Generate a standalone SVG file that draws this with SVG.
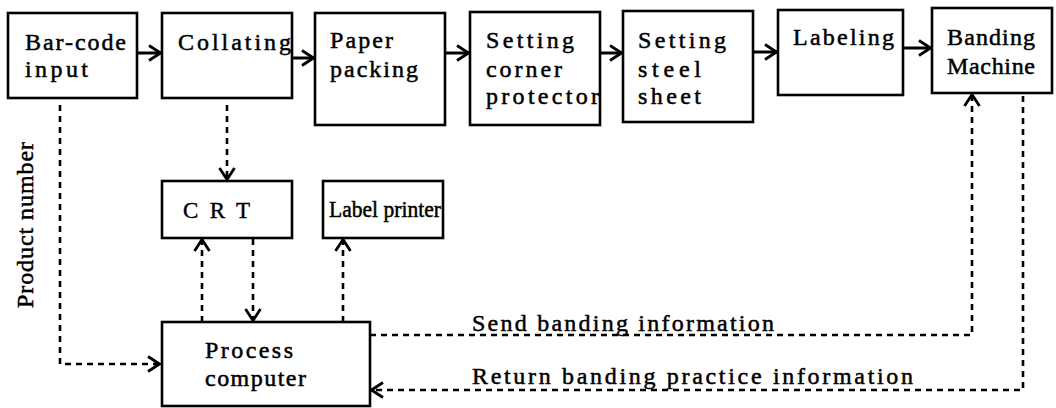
<svg xmlns="http://www.w3.org/2000/svg" width="1056" height="408" viewBox="0 0 1056 408">
<style>
.box{fill:#fff;stroke:#000;stroke-width:2.6}
.t{font-family:"Liberation Serif",serif;font-size:24px;fill:#000;stroke:#000;stroke-width:0.5}
.s{font-family:"Liberation Serif",serif;font-size:23px;fill:#000;stroke:#000;stroke-width:0.4}
.solid{fill:none;stroke:#000;stroke-width:3}
.dash{fill:none;stroke:#000;stroke-width:2.6;stroke-dasharray:6 5}
</style>
<defs>
<marker id="ah" markerUnits="userSpaceOnUse" viewBox="0 0 14 18" refX="13" refY="9" markerWidth="14" markerHeight="18" orient="auto">
<path d="M1,1.5 L12.5,9 L1,16.5" fill="none" stroke="#000" stroke-width="2.8"/>
</marker>
</defs>
<rect width="1056" height="408" fill="#fff"/>
<g id="connectors">
<path class="solid" d="M137,53 H161" marker-end="url(#ah)"/>
<path class="solid" d="M292,58 H314" marker-end="url(#ah)"/>
<path class="solid" d="M445,53 H469" marker-end="url(#ah)"/>
<path class="solid" d="M600,53 H622" marker-end="url(#ah)"/>
<path class="solid" d="M753,52 H777" marker-end="url(#ah)"/>
<path class="solid" d="M903,48 H931" marker-end="url(#ah)"/>
<path class="dash" d="M60,105 V364 H160" marker-end="url(#ah)"/>
<path class="dash" d="M227,105 V180" marker-end="url(#ah)"/>
<path class="dash" d="M202,322 V239" marker-end="url(#ah)"/>
<path class="dash" d="M253,239 V321" marker-end="url(#ah)"/>
<path class="dash" d="M343,322 V239" marker-end="url(#ah)"/>
<path class="dash" d="M370,335 H972 V94" marker-end="url(#ah)"/>
<path class="dash" d="M1023,96 V390 H371" marker-end="url(#ah)"/>
</g>
<g id="barcode"><rect class="box" x="8" y="13" width="129" height="85"/><text class="t" x="25" y="50" textLength="101" lengthAdjust="spacing">Bar-code</text><text class="t" x="25" y="77" textLength="63" lengthAdjust="spacing">input</text></g>
<g id="collating"><rect class="box" x="162" y="13" width="130" height="85"/><text class="t" x="178" y="50" textLength="113" lengthAdjust="spacing">Collating</text></g>
<g id="paper"><rect class="box" x="315" y="13" width="130" height="112"/><text class="t" x="330" y="48" textLength="63" lengthAdjust="spacing">Paper</text><text class="t" x="330" y="77" textLength="88" lengthAdjust="spacing">packing</text></g>
<g id="corner"><rect class="box" x="470" y="12" width="130" height="113"/><text class="t" x="486" y="48" textLength="88" lengthAdjust="spacing">Setting</text><text class="t" x="486" y="77" textLength="76" lengthAdjust="spacing">corner</text><text class="t" x="486" y="104" textLength="113" lengthAdjust="spacing">protector</text></g>
<g id="steel"><rect class="box" x="623" y="11" width="130" height="111"/><text class="t" x="638" y="48" textLength="88" lengthAdjust="spacing">Setting</text><text class="t" x="638" y="77" textLength="63" lengthAdjust="spacing">steel</text><text class="t" x="638" y="104" textLength="63" lengthAdjust="spacing">sheet</text></g>
<g id="labeling"><rect class="box" x="778" y="10" width="125" height="85"/><text class="t" x="793" y="45" textLength="101" lengthAdjust="spacing">Labeling</text></g>
<g id="banding"><rect class="box" x="932" y="8" width="120" height="85"/><text class="t" x="947" y="45" textLength="88" lengthAdjust="spacing">Banding</text><text class="t" x="947" y="74" textLength="88" lengthAdjust="spacing">Machine</text></g>
<g id="crt"><rect class="box" x="162" y="181" width="130" height="57"/><text class="s" x="183" y="218" textLength="67" lengthAdjust="spacing">C R T</text></g>
<g id="labelprinter"><rect class="box" x="323" y="181" width="120" height="57"/><text class="t" x="329" y="217" textLength="112" lengthAdjust="spacingAndGlyphs" font-size="22">Label printer</text></g>
<g id="process"><rect class="box" x="162" y="322" width="208" height="84"/><text class="t" x="205" y="358" textLength="88" lengthAdjust="spacing">Process</text><text class="t" x="205" y="386" textLength="101" lengthAdjust="spacing">computer</text></g>
<g id="labels">
<text class="t" x="472" y="331" textLength="302" lengthAdjust="spacing">Send banding information</text>
<text class="t" x="472" y="384" textLength="441" lengthAdjust="spacing">Return banding practice information</text>
<text class="t" transform="translate(33,225) rotate(-90)" text-anchor="middle" textLength="166" lengthAdjust="spacing">Product number</text>
</g>
</svg>
